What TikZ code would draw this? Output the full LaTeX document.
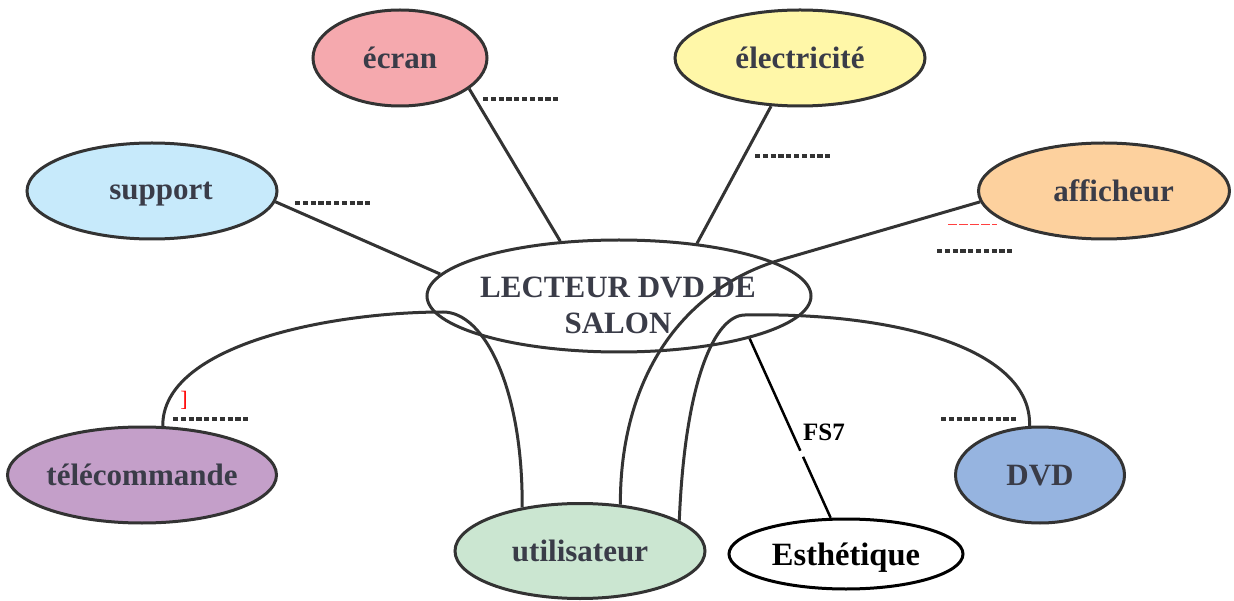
\documentclass[tikz,border=0pt]{standalone}
\usepackage{fontspec}
\setmainfont{Liberation Serif}
\usetikzlibrary{shapes.geometric,backgrounds,calc}
\definecolor{outl}{HTML}{333333}
\definecolor{txtc}{HTML}{3A3C48}
\definecolor{dotc}{HTML}{333333}
\definecolor{cEcran}{HTML}{F5A9AE}
\definecolor{cElec}{HTML}{FFF7A8}
\definecolor{cSupport}{HTML}{C7EAFB}
\definecolor{cAff}{HTML}{FDD19E}
\definecolor{cTele}{HTML}{C49FC9}
\definecolor{cUtil}{HTML}{CBE6D1}
\definecolor{cDVD}{HTML}{96B4E0}
\begin{document}
\begin{tikzpicture}[x=1pt,y=-1pt,
  bubble/.style={ellipse, draw=outl, line width=3pt, inner xsep=-8pt, inner ysep=0pt,
    text depth=0pt, font=\bfseries\fontsize{31}{36}\selectfont, text=txtc},
  txt/.style={font=\bfseries\fontsize{31}{36}\selectfont, text=txtc, align=center, inner sep=0pt},
  link/.style={draw=outl, line width=3pt},
  fsline/.style={draw=black, line width=2.5pt},
  dotline/.style={draw=dotc, line width=4.5pt, dash pattern=on 5.2pt off 2.6pt}
]
\useasboundingbox (0,0) rectangle (1234,601);

% nodes
\node[bubble, fill=cEcran, minimum width=174, minimum height=96] (ecran) at (400,58) {écran};
\node[bubble, fill=cElec, minimum width=250, minimum height=96] (elec) at (800,58) {électricité};
\node[bubble, fill=cSupport, minimum width=250, minimum height=96] (support) at (152,191) {\hspace*{18pt}support};
\node[bubble, fill=cAff, minimum width=251, minimum height=96] (aff) at (1104,191) {\hspace*{19pt}afficheur};
\node[bubble, minimum width=384, minimum height=112] (lect) at (619,296) {};
\node[txt] (lecttext) at (618,305) {LECTEUR DVD DE\\SALON};
\node[bubble, fill=cTele, minimum width=269, minimum height=96] (tele) at (142,475) {télécommande};
\node[bubble, fill=cUtil, minimum width=250, minimum height=95] (util) at (580,551) {utilisateur};
\node[bubble, draw=black, text=black, minimum width=234, minimum height=70,
      font=\bfseries\fontsize{32.5}{36}\selectfont] (esth) at (846,554) {Esthétique};
\node[bubble, fill=cDVD, minimum width=169, minimum height=96] (dvd) at (1040,475) {DVD};
\node[font=\bfseries\fontsize{25}{30}\selectfont, text=black, inner sep=0pt] (fs7) at (824,432) {FS7};
\node[text=red, font=\fontsize{22}{26}\selectfont, inner sep=0pt] (redmark) at (184,400) {]};

% dotted answer lines
\draw[dotline] (483,99) -- (559,99);
\draw[dotline] (755,156) -- (831,156);
\draw[dotline] (295,203) -- (371,203);
\draw[dotline] (937,251) -- (1013,251);
\draw[dotline] (173,419) -- (249,419);
\draw[dotline] (941,419) -- (1017,419);
\draw[red!75, line width=0.8pt, dash pattern=on 9pt off 2pt] (948,224) -- (997,224);

% connectors
\begin{scope}[on background layer]
\draw[link] (ecran.-24) -- (lect.137);
\draw[link] (elec.-121) -- (lect.34);
\draw[link] (support.-5) -- (lect.173);
\draw[link] (aff.185) -- (780,260) .. controls (680,290) and (620,380) .. (util.49);
\draw[link] (tele.67) .. controls (162,345) and (330,312) .. (443,312) .. controls (485,312) and (523,390) .. (util.143);
\draw[link] (dvd.102) .. controls (1032,350) and (900,312) .. (745,315) .. controls (715,315) and (685,380) .. (util.17);
\draw[fsline] (lect.-18) -- ($(lect.-18)!0.626!(esth.113)$);
\draw[fsline] ($(lect.-18)!0.66!(esth.113)$) -- (esth.113);
\end{scope}
\end{tikzpicture}
\end{document}
